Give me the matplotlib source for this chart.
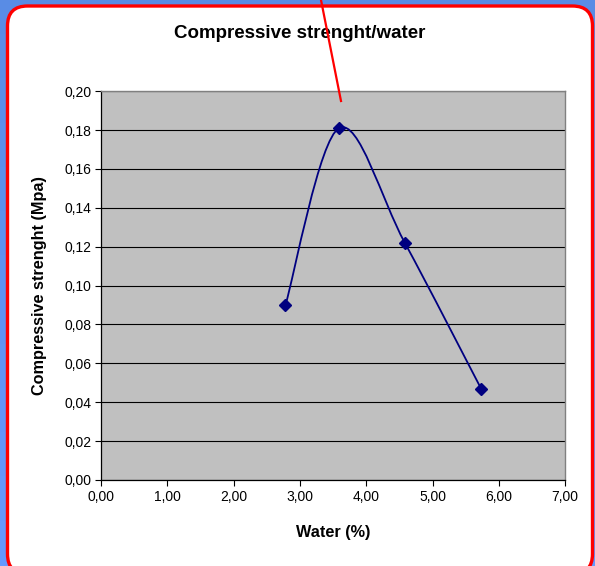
import matplotlib
matplotlib.use("Agg")
import matplotlib.pyplot as plt
import numpy as np
from matplotlib.patches import FancyBboxPatch, PathPatch
from matplotlib.path import Path
from matplotlib.lines import Line2D
from matplotlib.ticker import FuncFormatter, MultipleLocator

water = [2.78, 3.59, 4.58, 5.73]
strength = [0.090, 0.181, 0.122, 0.047]

title = "Compressive strenght/water"
xlabel = "Water (%)"
ylabel = "Compressive strenght (Mpa)"

plt.rcParams['font.family'] = ['Liberation Sans', 'DejaVu Sans']


def smooth_path(xs, ys):
    # spreadsheet-style smoothed line: cubic bezier through every point
    pts = np.column_stack([xs, ys])
    n = len(pts)
    verts = [pts[0]]
    codes = [Path.MOVETO]
    for i in range(n - 1):
        prev = pts[i - 1] if i > 0 else pts[i]
        nxt = pts[i + 2] if i + 2 < n else pts[i + 1]
        c1 = pts[i] + (pts[i + 1] - prev) / 6.0
        c2 = pts[i + 1] - (nxt - pts[i]) / 6.0
        verts += [c1, c2, pts[i + 1]]
        codes += [Path.CURVE4] * 3
    return Path(verts, codes)


fig = plt.figure(figsize=(5.95, 5.66), dpi=100)

# blue backdrop with a slight vertical gradient
bg = fig.add_axes([0, 0, 1, 1], zorder=-10)
grad = np.linspace(0, 1, 256).reshape(-1, 1)
top = np.array([0.35, 0.55, 0.90])
bottom = np.array([0.40, 0.60, 1.00])
img = top + (bottom - top) * grad[..., None]
bg.imshow(img, aspect='auto', extent=[0, 1, 0, 1], origin='upper')
bg.set_axis_off()

# white chart area with red rounded border
frame = FancyBboxPatch((0.075, -0.08), 5.85, 5.68,
                       boxstyle="round,pad=0,rounding_size=0.2",
                       transform=fig.dpi_scale_trans,
                       facecolor='white', edgecolor='#FF0000', linewidth=2.4,
                       zorder=-5)
fig.patches.append(frame)

ax = fig.add_axes([0.170, 0.152, 0.780, 0.687])
ax.set_facecolor('#C0C0C0')
ax.set_xlim(0, 7)
ax.set_ylim(0, 0.20)
ax.xaxis.set_major_locator(MultipleLocator(1))
ax.yaxis.set_major_locator(MultipleLocator(0.02))
ax.xaxis.set_major_formatter(FuncFormatter(lambda v, p: f"{v:.2f}".replace('.', ',')))
ax.yaxis.set_major_formatter(FuncFormatter(lambda v, p: f"{v:.2f}".replace('.', ',')))
ax.grid(axis='y', color='black', linewidth=0.8)
ax.set_axisbelow(True)

for side in ('top', 'right'):
    ax.spines[side].set_color('#808080')
    ax.spines[side].set_linewidth(1.0)
for side in ('left', 'bottom'):
    ax.spines[side].set_color('black')
    ax.spines[side].set_linewidth(0.9)
ax.tick_params(direction='out', length=4, width=0.8, labelsize=10, pad=3)

ax.add_patch(PathPatch(smooth_path(water, strength), facecolor='none',
                       edgecolor='#000080', linewidth=1.3, zorder=3))
ax.plot(water, strength, linestyle='none', marker='D', markersize=6,
        color='#000080', zorder=4)

fig.text(0.504, 0.940, title, ha='center', va='center',
         fontsize=13.5, fontweight='bold')
fig.text(0.560, 0.060, xlabel, ha='center', va='center',
         fontsize=11.7, fontweight='bold')
fig.text(0.066, 0.495, ylabel, ha='center', va='center', rotation=90,
         fontsize=11.7, fontweight='bold')

# red pointer line from the top edge down to the peak
fig.add_artist(Line2D([321 / 595, 341 / 595], [1.0, 1 - 101 / 566],
                      transform=fig.transFigure, color='#FF0000',
                      linewidth=1.6, zorder=10))

fig.savefig("out.png", dpi=100)
